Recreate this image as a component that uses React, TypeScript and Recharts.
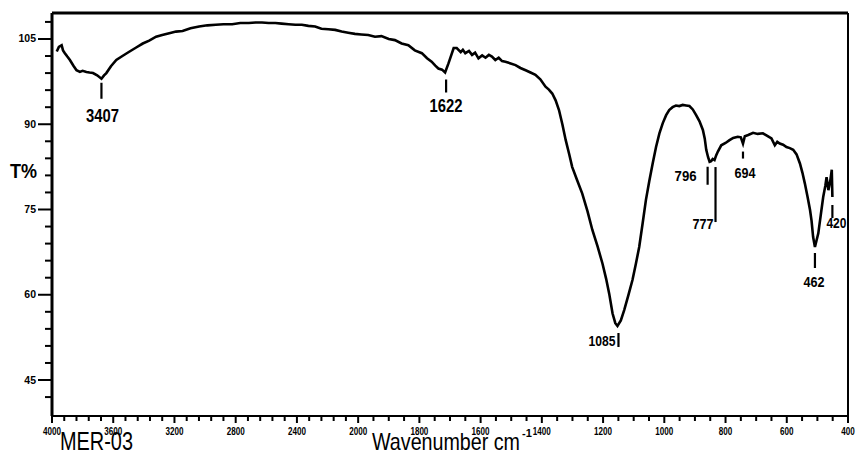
import { LineChart, Line, XAxis, YAxis, ReferenceLine, ReferenceDot } from "recharts";

// FTIR spectrum, sample MER-03
const wavenumber = [
  3969, 3955, 3937, 3928, 3916, 3900, 3883, 3860, 3840, 3818, 3800, 3775, 3755, 3732, 3705, 3677,
  3660, 3645, 3615, 3580, 3540, 3493, 3450, 3407, 3365, 3320, 3280, 3234, 3190, 3147, 3095, 3039,
  2985, 2930, 2880, 2823, 2770, 2714, 2670, 2628, 2585, 2541, 2500, 2454, 2410, 2368, 2325, 2281,
  2240, 2195, 2150, 2108, 2065, 2021, 1990, 1967, 1945, 1924, 1900, 1880, 1858, 1836, 1815, 1792,
  1775, 1760, 1748, 1738, 1726, 1716, 1705, 1695, 1688, 1678, 1665, 1658, 1650, 1638, 1628, 1618,
  1607, 1595, 1584, 1573, 1563, 1552, 1541, 1530, 1519, 1502, 1486, 1470, 1453, 1437, 1421, 1405,
  1388, 1377, 1366, 1355, 1344, 1333, 1322, 1311, 1301, 1285, 1268, 1251, 1235, 1218, 1202, 1190,
  1180, 1169, 1160, 1153, 1142, 1131, 1118, 1104, 1093, 1082, 1071, 1060, 1049, 1038, 1027, 1016,
  1005, 994, 984, 973, 962, 951, 940, 929, 918, 907, 896, 885, 874, 868, 863, 857,
  852, 847, 842, 836, 830, 825, 814, 800, 787, 775, 760, 750, 743, 737, 726, 710,
  695, 678, 665, 650, 639, 631, 623, 612, 601, 590, 579, 568, 557, 549, 541, 532,
  524, 519, 514, 508, 503, 497, 489, 481, 474, 470, 464, 458, 453, 451,
];
const transmittance = [
  102.8, 103.6, 103.9, 103.0, 102.5, 101.9, 101.3, 100.3, 99.5, 99.2, 99.4, 99.2, 99.1, 99.0, 98.6, 98.0,
  98.6, 99.0, 100.2, 101.3, 102.0, 102.8, 103.5, 104.2, 104.7, 105.4, 105.7, 106.0, 106.3, 106.4, 106.9, 107.2,
  107.4, 107.5, 107.6, 107.6, 107.8, 107.8, 107.9, 107.9, 107.8, 107.8, 107.7, 107.6, 107.5, 107.5, 107.3, 107.2,
  106.8, 106.7, 106.6, 106.3, 106.1, 105.9, 105.8, 105.7, 105.4, 105.5, 105.0, 104.8, 104.2, 103.9, 103.0, 102.5,
  101.6, 101.0, 100.3, 99.8, 99.6, 99.1, 100.7, 102.3, 103.4, 103.4, 102.7, 103.1, 102.5, 102.9, 102.2, 102.6,
  101.6, 102.1, 101.7, 102.2, 101.9, 101.3, 101.7, 101.1, 101.0, 100.7, 100.4, 99.9, 99.5, 99.1, 98.7, 97.9,
  96.6, 96.1, 95.4, 94.2, 92.5, 90.0, 87.2, 84.8, 82.5, 80.2, 77.8, 74.7, 71.4, 68.5, 65.5, 62.8,
  60.2, 56.7, 55.0, 54.5, 55.5, 57.3, 59.8, 62.6, 65.4, 68.4, 72.5, 76.7, 80.0, 83.1, 86.0, 88.4,
  90.2, 91.6, 92.5, 93.0, 93.3, 93.2, 93.4, 93.3, 93.2, 92.6, 91.6, 90.5, 89.0, 87.5, 85.5, 84.2,
  83.4, 83.5, 83.9, 83.7, 84.6, 85.2, 86.3, 86.7, 87.2, 87.6, 87.8, 87.7, 86.6, 87.9, 88.1, 88.5,
  88.3, 88.4, 88.0, 87.5, 86.3, 86.9, 86.6, 86.4, 86.0, 85.8, 85.5, 84.7, 83.1, 81.5, 79.6, 77.2,
  74.9, 73.0, 70.2, 68.4, 69.5, 70.8, 74.0, 77.2, 79.2, 80.7, 78.4, 80.0, 82.0, 77.2,
];

const xMajorTicks = [4000, 3600, 3200, 2800, 2400, 2000, 1800, 1600, 1400, 1200, 1000, 800, 600, 400];
const yMajorTicks = [45, 60, 75, 90, 105];

// peak labels as printed, and where their marker sits on the drawn axis
const peakLabels = ["3407", "1622", "1085", "796", "777", "694", "462", "420"];
const peakAt = [3677, 1716, 1153, 852, 836, 743, 508, 451];

// marker layout per peak: tick offset/length and label offset (px from the curve point)
const peakStyle = [
  { tx: 0, t1: 4, t2: 20, lx: 1, ly: 43, anchor: "middle", size: 19, len: 33 },
  { tx: 1, t1: 7, t2: 20, lx: 1, ly: 39, anchor: "middle", size: 19, len: 33 },
  { tx: 1, t1: 7, t2: 21, lx: -2, ly: 20, anchor: "end", size: 14, len: 27 },
  { tx: -2, t1: 5, t2: 23, lx: -24, ly: 19, anchor: "middle", size: 14, len: 22 },
  { tx: 1, t1: 7, t2: 62, lx: -1, ly: 69, anchor: "end", size: 14, len: 21 },
  { tx: 0, t1: 8, t2: 15, lx: 2, ly: 34, anchor: "middle", size: 14, len: 21 },
  { tx: 0, t1: 6, t2: 21, lx: -1, ly: 40, anchor: "middle", size: 14, len: 21 },
  { tx: 0, t1: 8, t2: 21, lx: -6, ly: 31, anchor: "start", size: 14, len: 20 },
];

// the instrument axis is compressed 2x above 2000 cm-1
const toAxis = (wn: number) => (wn >= 2000 ? 4000 - wn : 2000 + (2000 - wn) * 2);
const fromAxis = (u: number) => (u <= 2000 ? 4000 - u : 2000 - (u - 2000) / 2);

const xTicks: number[] = [];
for (let wn = 4000; wn > 2000; wn -= 80) xTicks.push(toAxis(wn));
for (let wn = 2000; wn >= 400; wn -= 50) xTicks.push(toAxis(wn));

const yTicks: number[] = [];
for (let t = 42; t <= 108; t += 3) yTicks.push(t);

const X_MAX = toAxis(400);
const Y_DOMAIN: [number, number] = [38.67, 109.57];
const FONT = "'Liberation Sans', Arial, sans-serif";

const data = wavenumber.map((wn, i) => ({ u: toAxis(wn), t: transmittance[i] }));

function XTick({ x, y, payload }: any) {
  const wn = Math.round(fromAxis(payload.value));
  const major = xMajorTicks.includes(wn);
  return (
    <g>
      <line x1={x} x2={x} y1={y} y2={y + (major ? 7 : 5)} stroke="#000" strokeWidth={2} />
      {major && (
        <text
          x={x}
          y={y + 19}
          textAnchor="middle"
          fontSize={10}
          fontWeight="bold"
          fontFamily={FONT}
          textLength={String(wn).length * 4.5}
          lengthAdjust="spacingAndGlyphs"
        >
          {wn}
        </text>
      )}
    </g>
  );
}

function YTick({ x, y, payload }: any) {
  const major = yMajorTicks.includes(payload.value);
  return (
    <g>
      <line x1={x - (major ? 14 : 7)} x2={x} y1={y} y2={y} stroke="#000" strokeWidth={2} />
      {major && (
        <text x={x - 16} y={y + 3.5} textAnchor="end" fontSize={10.5} fontWeight="bold" fontFamily={FONT}>
          {payload.value}
        </text>
      )}
    </g>
  );
}

function YTitle() {
  return (
    <text x={10} y={178} fontSize={21} fontWeight="bold" fontFamily={FONT} textLength={27} lengthAdjust="spacingAndGlyphs">
      T%
    </text>
  );
}

function XTitles() {
  return (
    <g fontFamily={FONT} fill="#000">
      <text x={60} y={450} fontSize={25} textLength={73} lengthAdjust="spacingAndGlyphs">
        MER-03
      </text>
      <text x={372} y={450} fontSize={24} textLength={148} lengthAdjust="spacingAndGlyphs">
        Wavenumber cm
      </text>
      <text x={522} y={437} fontSize={11} fontWeight="bold">
        -1
      </text>
    </g>
  );
}

function PeakMark({ cx, cy, label, s }: any) {
  return (
    <g fontFamily={FONT}>
      <line x1={cx + s.tx} x2={cx + s.tx} y1={cy + s.t1} y2={cy + s.t2} stroke="#000" strokeWidth={2.2} />
      <text
        x={cx + s.lx}
        y={cy + s.ly}
        textAnchor={s.anchor}
        fontSize={s.size}
        fontWeight="bold"
        textLength={s.len}
        lengthAdjust="spacingAndGlyphs"
      >
        {label}
      </text>
    </g>
  );
}

export default function App() {
  return (
    <div style={{ position: "absolute", left: 0, top: 0, width: 856, height: 458, background: "#fff" }}>
      <LineChart width={856} height={458} data={data} margin={{ top: 13, right: 8, left: 0, bottom: 0 }}>
        <XAxis
          dataKey="u"
          type="number"
          domain={[0, X_MAX]}
          allowDataOverflow
          ticks={xTicks}
          interval={0}
          tick={<XTick />}
          tickLine={false}
          tickSize={0}
          tickMargin={0}
          axisLine={{ stroke: "#000", strokeWidth: 2 }}
          height={42}
          label={<XTitles />}
        />
        <YAxis
          type="number"
          domain={Y_DOMAIN}
          allowDataOverflow
          ticks={yTicks}
          interval={0}
          tick={<YTick />}
          tickLine={false}
          tickSize={0}
          tickMargin={0}
          axisLine={{ stroke: "#000", strokeWidth: 3 }}
          width={52}
          label={<YTitle />}
        />
        <ReferenceLine y={Y_DOMAIN[1]} stroke="#000" strokeWidth={3} ifOverflow="visible" />
        <ReferenceLine x={X_MAX} stroke="#000" strokeWidth={2} ifOverflow="visible" />
        <Line
          type="linear"
          dataKey="t"
          stroke="#000"
          strokeWidth={2.6}
          dot={false}
          isAnimationActive={false}
        />
        {peakLabels.map((label, i) => {
          const idx = wavenumber.indexOf(peakAt[i]);
          return (
            <ReferenceDot
              key={label}
              x={toAxis(peakAt[i])}
              y={transmittance[idx]}
              r={0}
              ifOverflow="visible"
              shape={(p: any) => <PeakMark cx={p.cx} cy={p.cy} label={label} s={peakStyle[i]} />}
            />
          );
        })}
      </LineChart>
    </div>
  );
}
